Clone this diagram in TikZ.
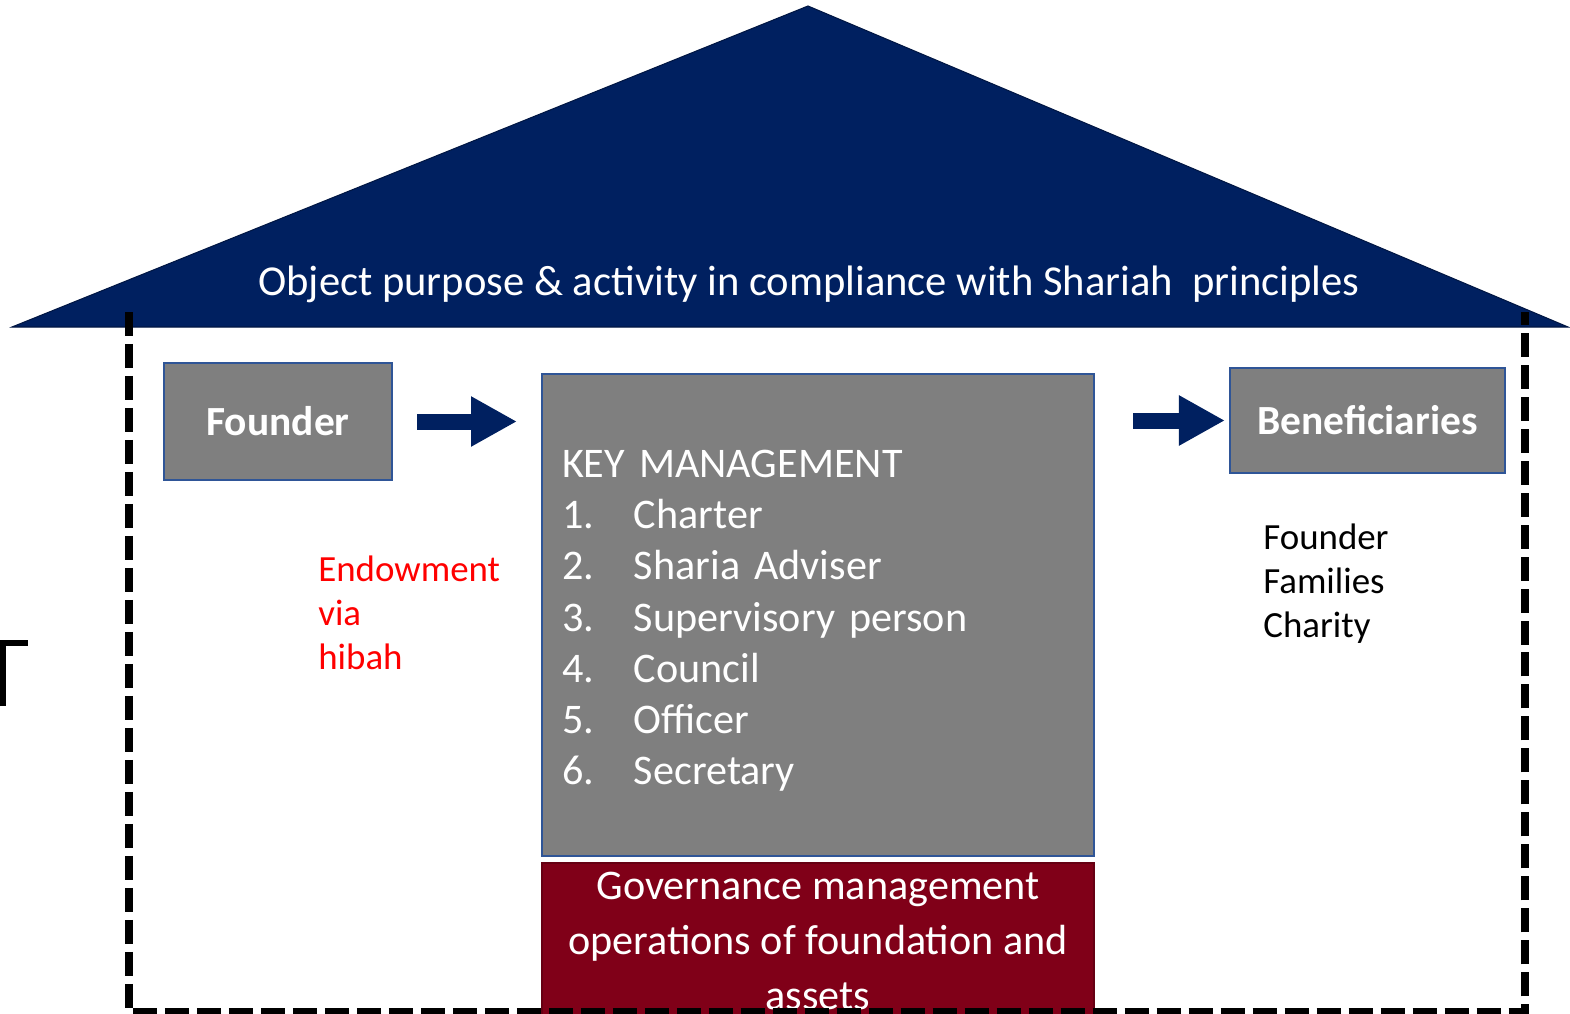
\documentclass[tikz,border=0pt]{standalone}
\usepackage{fontspec}
\setmainfont{Carlito}
\usetikzlibrary{arrows.meta}
\usetikzlibrary{positioning}
\usetikzlibrary{calc}

\definecolor{roofblue}{HTML}{002060}
\definecolor{boxgray}{HTML}{7F7F7F}
\definecolor{boxline}{HTML}{2F5597}
\definecolor{govred}{HTML}{800018}
\newcommand{\listno}[1]{\makebox[1.44cm][l]{#1}}

\begin{document}
\begin{tikzpicture}[x=0.02cm,y=-0.02cm]
\tikzstyle{box} = [rectangle, draw=boxline, line width=1.2pt, fill=boxgray, text=white]
\tikzstyle{bigarrow} = [draw=roofblue, line width=0.32cm, -{Triangle[length=0.92cm,width=0.94cm]}]
\tikzstyle{note} = [align=left, inner sep=0pt, anchor=west, font=\fontsize{21}{25}\selectfont]
\useasboundingbox (0,0) rectangle (1570,1014);
% roof
\fill[roofblue, draw=roofblue!70!black, line width=0.6pt] (12,327) -- (808,6) -- (1568,327) -- cycle;
\node[text=white, font=\fontsize{24.25}{29}\selectfont] (title) at (809,284) {Object purpose \& activity in compliance with Shariah~ principles};
% boxes
\node[box, minimum width=4.56cm, minimum height=2.34cm, font=\bfseries\fontsize{23.6}{28}\selectfont] (founder) at (278,421.5) {Founder};
\node[box, minimum width=11.04cm, minimum height=9.64cm, text width=10.24cm, inner xsep=0.4cm, align=left, font=\fontsize{24}{29.1}\selectfont] (keymgmt) at (818,615) {\rule{0pt}{0.78cm}KEY MANAGEMENT\\
\listno{1.}Charter\\
\listno{2.}Sharia Adviser\\
\listno{3.}Supervisory person\\
\listno{4.}Council\\
\listno{5.}Officer\\
\listno{6.}Secretary};
\node[box, minimum width=5.5cm, minimum height=2.1cm, font=\bfseries\fontsize{23.6}{28}\selectfont] (benef) at (1367.5,420.5) {Beneficiaries};
\node[box, fill=govred, draw=govred!80!black, minimum width=11.04cm, minimum height=3.12cm, align=center, font=\fontsize{24}{31.2}\selectfont] (govern) at (818,941) {Governance management\\operations of foundation and\\assets};
% notes
\node[note, text=red] (endow) at (318,613) {Endowment\\via\\hibah};
\node[note] (receivers) at (1263,583.5) {Founder\\Families\\Charity};
% arrows
\draw[bigarrow, shorten <=0.48cm, shorten >=0.48cm] (founder.east) -- (founder.east -| keymgmt.west);
\draw[bigarrow, shorten <=0.76cm, shorten >=0.08cm] (keymgmt.east |- benef.west) -- (benef.west);
% dashed frame
\draw[line width=0.16cm, dash pattern=on 0.48cm off 0.16cm] (129,312) -- (129,1012) -- (1525,1012) -- (1525,312);
\draw[line width=0.12cm] (3,706) -- (3,643) -- (28,643);
\end{tikzpicture}
\end{document}
